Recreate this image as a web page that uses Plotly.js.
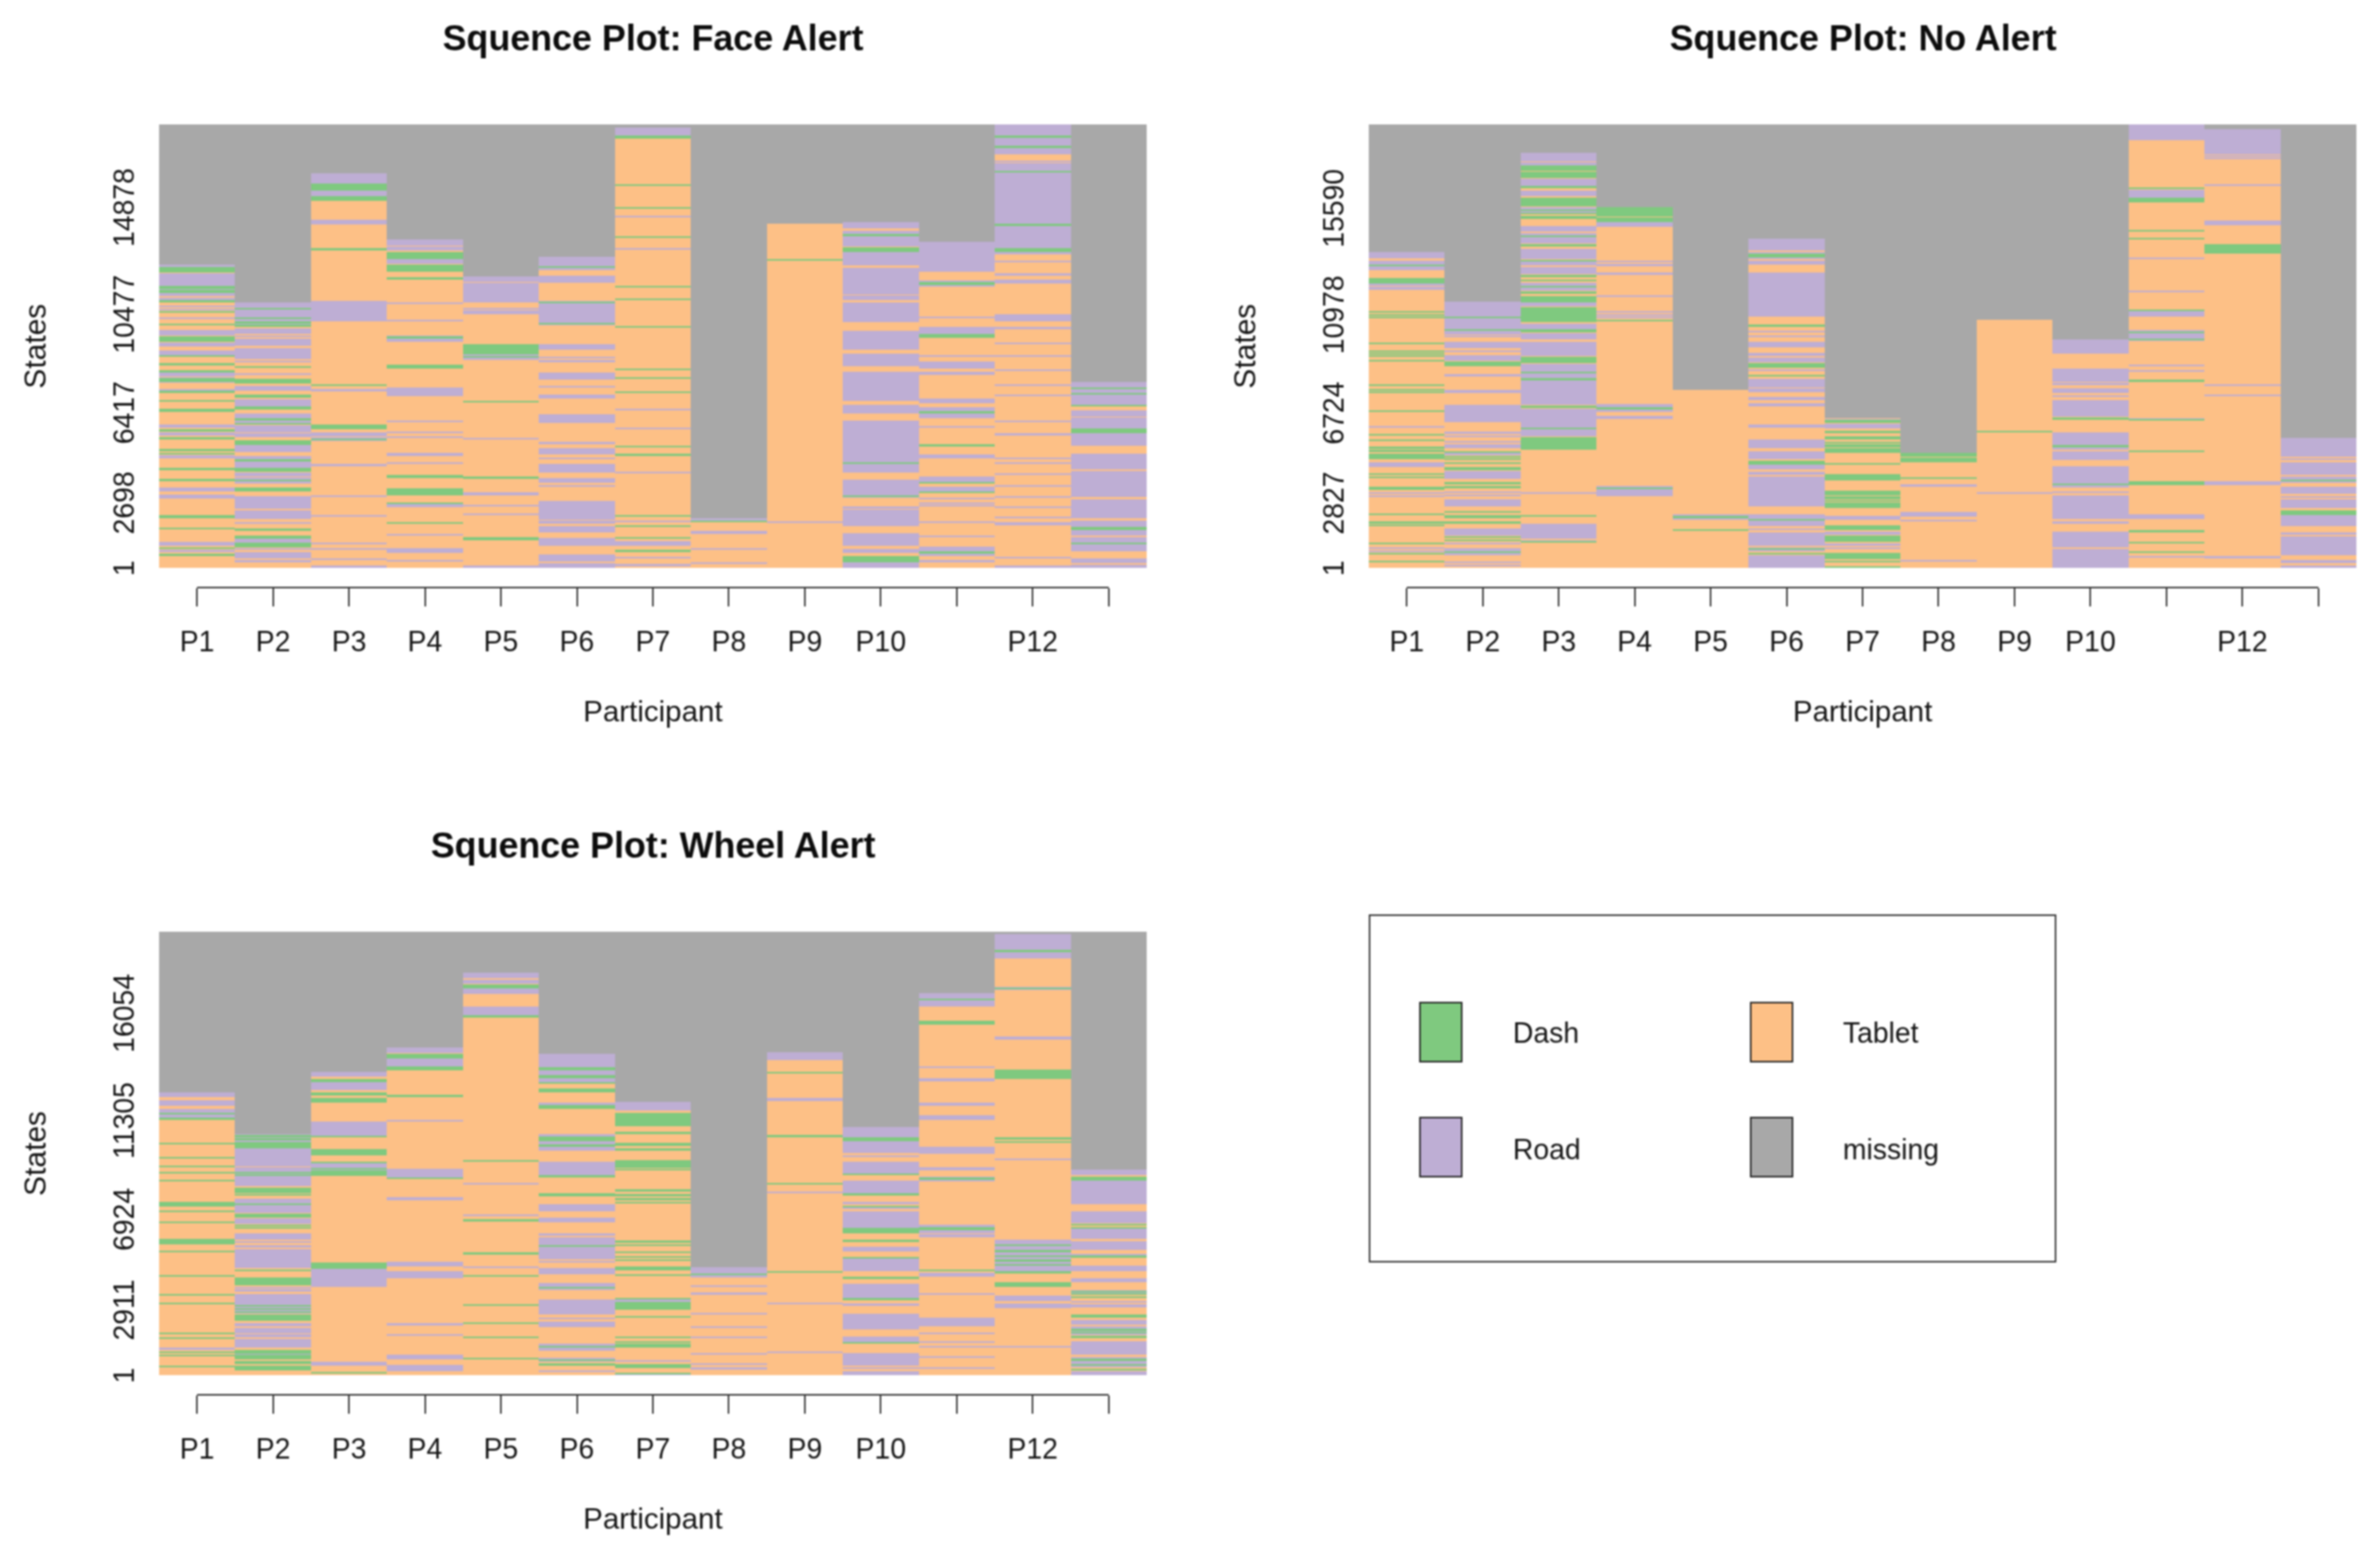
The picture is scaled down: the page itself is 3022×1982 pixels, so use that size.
<!DOCTYPE html>
<html>
<head>
<meta charset="utf-8">
<script src="https://cdn.plot.ly/plotly-3.0.1.min.js"></script>
<style>
html,body{margin:0;padding:0;background:#fff}
#chart{width:3022px;height:1982px;filter:blur(1.1px)}
</style>
</head>
<body>
<div id="chart"></div>
<script>
const participantLabels = ['P1','P2','P3','P4','P5','P6','P7','P8','P9','P10','','P12',''];
const stateNames = ['Dash','Tablet','Road','missing'];
const stateColors = {Dash:'#7FC97F',Tablet:'#FDC086',Road:'#BEAED4',missing:'#A8A8A8'};

const faceMax = 18285, noMax = 19200, wheelMax = 19650;
const faceTicks = [1,2698,6417,10477,14878];
const noTicks = [1,2827,6724,10978,15590];
const wheelTicks = [1,2911,6924,11305,16054];

// Sequence length of each participant (the rest of the column is "missing")
const faceLength = [12488,10960,16266,13537,12022,12826,18143,2052,14179,14260,13444,18283,7649];
const noLength = [13692,11513,17976,15626,7694,14243,6470,4977,10755,9898,19200,18980,5638];
const wheelLength = [12546,10691,13423,14513,17833,14237,12107,4765,14325,10984,16918,19550,9100];

// Episodes per participant as flat pairs: last state of episode, number of states
const faceRoad = [
[12488,90,12160,550,11614,300,11287,60,11147,190,10820,60,10680,40,10331,60,9806,240,9305,190,8955,170,8045,140,7847,230,7381,50,5924,140,5574,120,4641,140,3300,150,3008,140,1084,170,734,90],
[10960,470,10494,450,9864,210,9596,90,9456,290,9072,470,8547,70,8022,60,7498,175,6950,300,6367,210,6063,140,5865,290,5550,150,5084,300,4618,500,3941,175,3732,260,2950,525,2367,350,1900,60,1201,150,828,90,653,270,327,90],
[16266,430,15543,200,14342,175,10996,815,7381,115,5574,140,5399,175,4291,115,2974,35,2169,35,1026,50,793,35,385,35,93,93],
[13537,245,13246,160,12745,210,10937,50,10237,60,9596,290,7439,350,6075,60,5632,60,5411,50,4757,140,4350,50,2635,150,1398,50,828,210,327,80],
[12022,245,11753,580,11170,230,10704,50,10610,140,8815,230,5340,35,3125,140,2612,50,2250,50,93,93],
[12826,315,12488,210,12045,290,10996,80,10914,795,10121,115,9212,220,8699,60,8582,90,8045,280,7497,50,7148,150,6331,350,5200,90,4932,270,4547,70,4291,350,3708,210,3417,80,2775,795,1936,115,1726,260,1236,330,537,270,210,210],
[18143,300,14529,50,13176,50,6565,50,5772,50,3976,50,1959,70,1119,210,443,50,152,93],
[2052,165,1539,140,816,50,233,50],
[1900,35],
[14260,270,13887,650,13013,535,12360,1095,11229,200,10937,790,9771,760,8839,525,8080,1200,6716,350,6063,2120,3650,760,2542,90,2402,675,1434,525,793,165,233,233],
[13444,1225,11870,290,10354,50,9946,290,8780,60,8512,280,8080,115,6996,200,6623,465,5830,35,4664,165,3767,260,3335,260,2891,35,2682,35,2600,70,1900,35,1318,35,886,385,327,90],
[18283,875,17327,270,16767,35,16709,470,16242,2040,14109,865,13246,325,12663,60,12162,115,11893,175,10447,270,9946,115,9305,70,8780,50,8197,80,7579,60,7148,60,6063,50,5550,90,4547,80,4350,60,3883,35,3393,35,2950,50,2519,35,2099,50,1900,150,466,80,93,93],
[7649,970,6506,255,6203,465,5550,515,4699,650,3999,1070,2834,790,1959,255,1562,235,1259,585,385,200,117,117]
];
const faceDash = [
[12395,230,11614,120,11460,120,11030,70,10587,70,10063,60,9538,230,8780,60,8430,60,8139,60,7812,140,7299,90,6915,50,6565,120,5714,80,5399,120,4897,80,4757,50,4116,60,3684,120,2192,140,1668,80,851,70,583,90],
[10704,50,10331,50,10179,110,10040,110,8314,70,7789,175,7148,120,6647,120,6157,90,5970,50,5247,165,4466,60,4116,140,3650,70,3300,140,1609,90,1318,120,1049,190],
[15834,290,15345,210,13176,60,7579,70,5900,185,5340,70],
[13013,270,12488,290,11987,90,9538,90,8372,140,3825,120,3265,280,2694,60,1900,60],
[9212,400,8745,70,6880,70,3755,70,1259,120],
[12453,90,10961,35,10098,70],
[17840,140,15811,50,14878,50,13666,50,11637,70,11100,70,9969,70,8209,50,7847,50,7264,70,5049,50,4722,105,2180,60,1749,50,1259,70,734,70],
[1959,70],
[12733,70],
[13759,70,13234,220,4350,60,2985,70,478,245],
[11777,115,9631,150,6448,80,5107,90,3545,70,3148,70,676,90],
[17817,70,17397,70,16382,90,14179,70,13176,140],
[7439,60,7206,60,6716,70,5736,185,1702,140,1026,50]
];

const noRoad = [
[13692,305,13288,390,12321,120,12162,120,6128,50,4573,210,3288,60,3141,60,902,100,767,70],
[11513,515,10975,220,10730,650,10045,50,9800,295,9408,60,9224,60,9139,160,8404,120,7694,120,7058,735,5883,70,5736,70,5491,70,5345,160,5002,120,4206,365,3312,60,3165,60,2982,330,1721,330,1085,70,865,330,289,70,130,70],
[17976,370,17548,185,16850,320,16324,220,15626,320,14794,245,14488,210,14280,220,13814,430,13264,185,13019,295,12346,345,11489,150,10571,245,10167,270,9800,635,8820,245,8551,465,8086,1030,6899,820,6005,295,3264,35,1917,650,1207,120],
[14977,220,13288,50,13178,100,12774,60,11795,60,11122,60,10975,50,10877,50,7082,345,6593,150,3557,455],
[2309,220],
[14243,490,13692,150,13423,70,13300,185,12774,1900,10265,60,10045,50,9775,220,9310,150,9102,210,8576,50,8184,365,7792,195,7413,150,7144,160,6201,120,5553,365,5063,365,4451,185,4169,150,3961,60,3875,1225,2309,490,1721,70,1550,590,901,185,534,530],
[6446,160,6250,210,2248,160,1574,150,1060,100,901,70],
[3618,120,2406,195,2089,75,350,50],
[3264,35],
[9898,635,8612,575,7999,60,7792,220,7474,50,7266,735,5859,735,5063,390,4414,945,3312,60,3141,1040,2003,60,1574,675,803,795],
[19200,675,16360,320,13447,50,12015,50,11183,305,10289,455,8796,60,8551,50,6495,120,2309,185,1109,50,510,60],
[18980,1065,17878,50,17756,50,16605,50,15038,220,7939,50,7499,50,3741,160,498,60],
[5638,820,4757,60,4573,550,3961,85,3875,195,3509,320,3104,85,2982,405,2285,465,1550,120,1354,820,350,150,106,100]
];
const noDash = [
[13141,70,12566,245,11122,70,10975,50,10877,50,9751,50,9408,50,9310,50,9224,60,9004,50,7939,50,7744,50,7646,50,6813,50,5810,50,5541,50,5247,85,5100,100,4941,220,4084,60,3961,60,3509,120,2370,60,2003,85,1868,50,1085,50,632,50,302,70],
[10877,50,10326,60,8943,210,5063,60,4855,70,4733,70,4573,60,4365,60,4292,50,3716,85,3558,120,2456,85,2284,120,2003,60,1354,50,1231,50,718,60],
[17425,70,17364,185,17144,270,16532,85,16018,370,15528,50,15381,50,15259,160,14402,50,14010,100,13349,50,12688,120,12492,50,12199,35,11978,120,11758,270,11305,670,10326,120,9139,280,8490,50,8221,100,7009,85,6055,50,5675,550,2284,60,1158,70],
[15626,100,15504,280,15185,210,10754,60,6960,120,3471,50],
[2235,60,1673,70],
[13619,195,10534,85,8857,210,8368,60,4634,160,2125,60,865,60,644,50],
[6409,120,5920,60,5712,160,5467,70,5345,50,5271,50,5185,210,4537,70,4047,270,3349,220,3104,120,2922,50,2823,245,1844,220,1391,280,657,280,289,50,80,70],
[4965,145,4781,210,3924,60],
[5920,50],
[6519,120,5308,60,3655,70],
[16483,70,16018,185,14622,70,14280,50,11183,60,10228,60,9922,60,8159,100,6458,50,5087,50,3741,145,1623,60,1109,50,717,50],
[14023,405],
[3826,70,2480,195]
];

const wheelRoad = [
[12546,225,12170,225,11781,375,1206,100],
[10691,665,10027,775,9225,375,8849,475,7809,250,7559,375,6932,215,6268,250,5930,60,5767,125,5592,290,5303,540,3925,75,3800,100,3612,375,3236,500,2296,125,2108,250,1808,125,1607,400,1105,400],
[13423,190,13072,440,11230,625,9400,550,4714,800,580,150],
[14513,250,14037,340,11292,50,9150,465,7872,50,7797,40,5015,190,4614,315,2296,90,1807,50,918,215,454,290],
[17833,250,17520,190,17144,250,16330,375,8523,50,7120,40,4802,40],
[14237,500,13736,790,12070,150,10691,750,9476,700,7559,315,6970,200,6268,100,6118,1000,5078,60,4739,275,4075,315,3361,690,2547,40,2384,250,1381,300,780,175,205,60],
[12107,375,3386,150,667,60,100,100],
[4765,450,3987,50,3650,75,2760,50,2170,60,1707,60,968,50,505,40,355,125],
[14325,375,12282,125,8122,40,3211,40,1031,40],
[10984,440,10353,500,9751,60,9476,575,8624,600,7684,100,7521,150,7270,750,5992,100,5680,190,5240,625,4050,625,3172,90,2735,725,1707,325,981,565,329,40,165,165],
[16918,590,13686,60,13160,125,12082,140,11505,190,10127,315,9212,150,8811,215,6681,415,6243,150,4551,190,3637,75,2547,375,1895,50,1507,50,1281,50,855,60,354,50],
[19550,1090,17207,125,15014,150,9601,50,5992,1400,3512,215,3173,190,1294,60],
[9100,250,8800,240,8561,1000,7270,525,6494,440,5930,375,5366,125,4865,275,4301,190,3787,200,3298,100,3136,125,2458,225,2170,375,1507,590,793,440,165,165]
];
const wheelDash = [
[11631,60,11405,90,10303,50,9664,50,9300,100,8999,60,8661,50,7671,215,7270,40,6819,50,6055,250,5516,50,4426,50,3587,50,3211,50,1882,50,1657,50,1056,50,906,50,416,50],
[10653,100,10503,100,10315,250,9000,50,8900,50,8310,250,8022,50,7621,50,7145,150,6669,75,6544,50,4677,60,4338,50,4263,50,4175,190,3110,50,2960,50,2809,50,2672,250,1105,150,900,190,630,50,555,40,416,190],
[13109,125,12533,50,12445,50,12295,225,10603,50,10002,275,9463,60,9187,60,9062,215,4990,275,128,40],
[14237,200,13698,190,12408,75,8774,60],
[17307,165,15954,125,9526,50,6895,100,5429,60,4426,50,3136,75,2346,50,1707,75,780,75],
[13661,150,13285,125,12984,75,12696,160,11982,200,10566,215,10227,100,8849,75,8060,125,5767,75,3925,60,1307,60,705,75,529,100],
[11631,600,10779,100,10278,40,10228,40,10065,125,9526,350,9125,50,8223,60,8022,90,7847,90,7684,50,5967,100,5804,90,5491,50,5266,60,5140,50,4803,165,4464,75,3423,50,3236,325,2634,75,1707,75,1506,50,1381,150,505,190,100,75],
[4514,60],
[13447,60,10654,100,8524,50,4614,60],
[10528,175,8937,75,8047,75,7521,100,6518,225,5992,100,5240,90,4364,100,3424,100,1481,75],
[16668,50,15703,165,8749,100,6556,150,4677,60],
[18836,60,17169,60,13535,425,10528,75,10378,60,5805,75,5554,125,5303,60,5116,60,4927,60,4614,100,4113,200],
[8800,175,6682,50,6570,60,5290,100,3737,50,3612,50,3487,75,2672,140,2045,60,1907,50,1733,100,728,100,479,75,292,90]
];

const W = 3022, H = 1982;
const fontFamily = '"Liberation Sans", Arial, sans-serif';
const textColor = '#141414';
const px = v => v / W, py = v => 1 - v / H;

const panels = [
  {name:'Face Alert', sfx:'', title:'Squence Plot: Face Alert', x0:202, x1:1456, y0:158, y1:721, max:faceMax, ticks:faceTicks, len:faceLength, road:faceRoad, dash:faceDash},
  {name:'No Alert', sfx:'2', title:'Squence Plot: No Alert', x0:1738, x1:2992, y0:158, y1:721, max:noMax, ticks:noTicks, len:noLength, road:noRoad, dash:noDash},
  {name:'Wheel Alert', sfx:'3', title:'Squence Plot: Wheel Alert', x0:202, x1:1456, y0:1183, y1:1746, max:wheelMax, ticks:wheelTicks, len:wheelLength, road:wheelRoad, dash:wheelDash}
];
const columns = participantLabels.map((_, i) => i + 1);

function episodes(list, state, p) {
  const x = [], y = [], base = [];
  list.forEach((pairs, i) => {
    for (let k = 0; k < pairs.length; k += 2) {
      x.push(i + 1); y.push(pairs[k + 1]); base.push(pairs[k] - pairs[k + 1]);
    }
  });
  return barTrace(state, x, y, base, p);
}
function barTrace(state, x, y, base, p) {
  return {type:'bar', name:state, x, y, base, width:1, showlegend:false, hoverinfo:'skip',
    xaxis:'x' + p.sfx, yaxis:'y' + p.sfx,
    marker:{color:stateColors[state], line:{width:0}}};
}

const traces = [], shapes = [], annotations = [];
const layout = {
  width:W, height:H, margin:{l:0,r:0,t:0,b:0,pad:0}, paper_bgcolor:'#fff', plot_bgcolor:'#fff',
  barmode:'overlay', bargap:0, font:{family:fontFamily, size:36, color:textColor}, showlegend:false
};

panels.forEach(p => {
  traces.push(barTrace('missing', columns, columns.map(() => p.max), columns.map(() => 0), p));
  traces.push(barTrace('Tablet', columns, p.len, columns.map(() => 0), p));
  traces.push(episodes(p.road, 'Road', p));
  traces.push(episodes(p.dash, 'Dash', p));
  const axisY = py(p.y1 + 25);
  layout['xaxis' + p.sfx] = {
    domain:[px(p.x0), px(p.x1)], range:[0.5, 13.5], anchor:'free', position:axisY, side:'bottom',
    tickmode:'array', tickvals:columns, ticktext:participantLabels, tickangle:0,
    ticks:'outside', ticklen:23, tickwidth:2, tickcolor:'#333', showgrid:false, zeroline:false, showline:false,
    ticklabelstandoff:14, tickfont:{size:36, color:textColor, family:fontFamily},
    title:{text:'Participant', font:{size:37.5, color:textColor, family:fontFamily}, standoff:55}, automargin:false, fixedrange:true
  };
  layout['yaxis' + p.sfx] = {
    domain:[py(p.y1), py(p.y0)], range:[0, p.max], anchor:'x' + p.sfx,
    tickmode:'array', tickvals:p.ticks, ticktext:p.ticks.map(String), tickangle:-90,
    ticks:'outside', ticklen:17, tickwidth:1, tickcolor:'rgba(0,0,0,0)', showgrid:false, zeroline:false, showline:false,
    ticklabelshift:6, tickfont:{size:36, color:textColor, family:fontFamily},
    title:{text:'States', font:{size:38, color:textColor, family:fontFamily}, standoff:66}, automargin:false, fixedrange:true
  };
  shapes.push({type:'line', xref:'x' + p.sfx, yref:'paper', x0:1, x1:13, y0:axisY, y1:axisY, line:{color:'#333', width:2}});
  annotations.push({xref:'paper', yref:'paper', x:px((p.x0 + p.x1) / 2), y:py(p.y0 - 110), xanchor:'center', yanchor:'middle',
    showarrow:false, text:'<b>' + p.title + '</b>', font:{size:45.5, color:'#0c0c0c', family:fontFamily}});
});

// Legend box
shapes.push({type:'rect', xref:'paper', yref:'paper', x0:px(1739), x1:px(2610), y0:py(1162), y1:py(1602),
  line:{color:'#333', width:2}, fillcolor:'#fff'});
const legendCells = [
  {s:'Dash', x:1803, y:1273, tx:1919, ty:1311},
  {s:'Tablet', x:2223, y:1273, tx:2338, ty:1311},
  {s:'Road', x:1803, y:1419, tx:1919, ty:1459},
  {s:'missing', x:2223, y:1419, tx:2338, ty:1459}
];
legendCells.forEach(c => {
  shapes.push({type:'rect', xref:'paper', yref:'paper', x0:px(c.x), x1:px(c.x + 53), y0:py(c.y), y1:py(c.y + 75),
    line:{color:'#222', width:2}, fillcolor:stateColors[c.s]});
  annotations.push({xref:'paper', yref:'paper', x:px(c.tx), y:py(c.ty), xanchor:'left', yanchor:'middle',
    showarrow:false, text:c.s, font:{size:36, color:textColor, family:fontFamily}});
});
layout.shapes = shapes;
layout.annotations = annotations;

Plotly.newPlot('chart', traces, layout, {displayModeBar:false, staticPlot:false});
</script>
</body>
</html>
